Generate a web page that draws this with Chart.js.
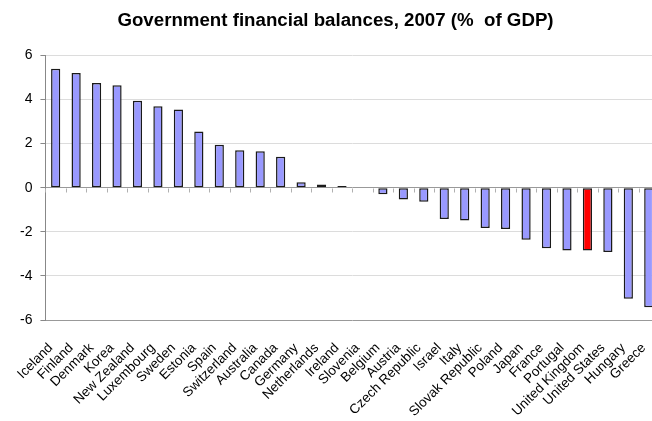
<!DOCTYPE html>
<html>
<head>
<meta charset="utf-8">
<script src="https://cdn.jsdelivr.net/npm/chart.js@4/dist/chart.umd.min.js"></script>
<style>
	html, body { margin: 0; padding: 0; background: #fff; overflow: hidden; }
	#wrap { width: 662px; height: 421px; }
</style>
</head>
<body>
<div id="wrap"><canvas id="balances"></canvas></div>
<script>
// countries, sorted from surplus to deficit
const countries = ["Iceland", "Finland", "Denmark", "Korea", "New Zealand", "Luxembourg",
	"Sweden", "Estonia", "Spain", "Switzerland", "Australia", "Canada", "Germany",
	"Netherlands", "Ireland", "Slovenia", "Belgium", "Austria", "Czech Republic", "Israel",
	"Italy", "Slovak Republic", "Poland", "Japan", "France", "Portugal", "United Kingdom",
	"United States", "Hungary", "Greece"];
const balances = [5.4, 5.2, 4.75, 4.65, 3.95, 3.7, 3.55, 2.55, 1.95, 1.7, 1.65, 1.4, 0.25,
	0.15, 0.08, 0.0, -0.3, -0.53, -0.64, -1.42, -1.49, -1.83, -1.87, -2.36, -2.74, -2.85,
	-2.85, -2.91, -5.04, -5.42];
const highlight = "United Kingdom";
const yTicks = [6, 4, 2, 0, -2, -4, -6];

let barColors = [];
for (let i = 0; i < countries.length; i++) {
	if (countries[i] == highlight) barColors.push("#ff0000");
	else barColors.push("#9999ff");
}

// small tick marks hanging off the zero line, between categories
const zeroTicks = {
	id: "zeroTicks",
	beforeDatasetsDraw(chart) {
		const x = chart.scales.x;
		const y = chart.scales.y;
		const ctx = chart.ctx;
		const y0 = Math.round(y.getPixelForValue(0)) + 0.5;
		const half = (x.getPixelForValue(1) - x.getPixelForValue(0)) / 2;
		ctx.save();
		ctx.strokeStyle = "#b0b0b0";
		ctx.lineWidth = 1;
		ctx.beginPath();
		for (let i = 0; i <= countries.length; i++) {
			let px = Math.round(x.getPixelForValue(i) - half) + 0.5;
			ctx.moveTo(px, y0);
			ctx.lineTo(px, y0 + 4);
		}
		ctx.stroke();
		ctx.restore();
	},
};

new Chart("balances", {
	type: "bar",
	data: {
		labels: countries,
		datasets: [{
			data: balances,
			backgroundColor: barColors,
			borderColor: "#1a1a1a",
			borderWidth: 1.5,
			borderSkipped: false,
			barPercentage: 0.45,
			categoryPercentage: 1,
		}],
	},
	options: {
		responsive: true,
		maintainAspectRatio: false,
		animation: false,
		layout: { padding: { left: 12, right: 3, top: 0, bottom: 0 } },
		plugins: {
			legend: { display: false },
			tooltip: { enabled: false },
			title: {
				display: true,
				text: "Government financial balances, 2007 (%  of GDP)",
				color: "#000",
				font: { family: "Liberation Sans, Arial, sans-serif", size: 18.7, weight: "bold" },
				padding: { top: 10, bottom: 23 },
			},
		},
		scales: {
			x: {
				grid: { display: false },
				border: { display: false },
				afterFit(scale) {
					// fixed label band, and let the plot run off the right edge like the original
					scale.height = 101;
					scale.paddingLeft = 0;
					scale.paddingRight = 0;
				},
				ticks: {
					color: "#000",
					font: { family: "Liberation Sans, Arial, sans-serif", size: 13.5 },
					minRotation: 45,
					maxRotation: 45,
					autoSkip: false,
					padding: 12,
					labelOffset: -5,
				},
			},
			y: {
				min: -6,
				max: 6,
				afterBuildTicks(axis) {
					axis.ticks = yTicks.map((v) => ({ value: v }));
				},
				grid: {
					color: (c) => (c.tick && (c.tick.value == 0 || c.tick.value == -6) ? "#999" : "#dcdcdc"),
					tickColor: "#888",
					tickLength: 5,
				},
				border: { color: "#888" },
				ticks: {
					color: "#000",
					font: { family: "Liberation Sans, Arial, sans-serif", size: 14 },
					padding: 8,
				},
			},
		},
	},
	plugins: [zeroTicks],
});
</script>
</body>
</html>
